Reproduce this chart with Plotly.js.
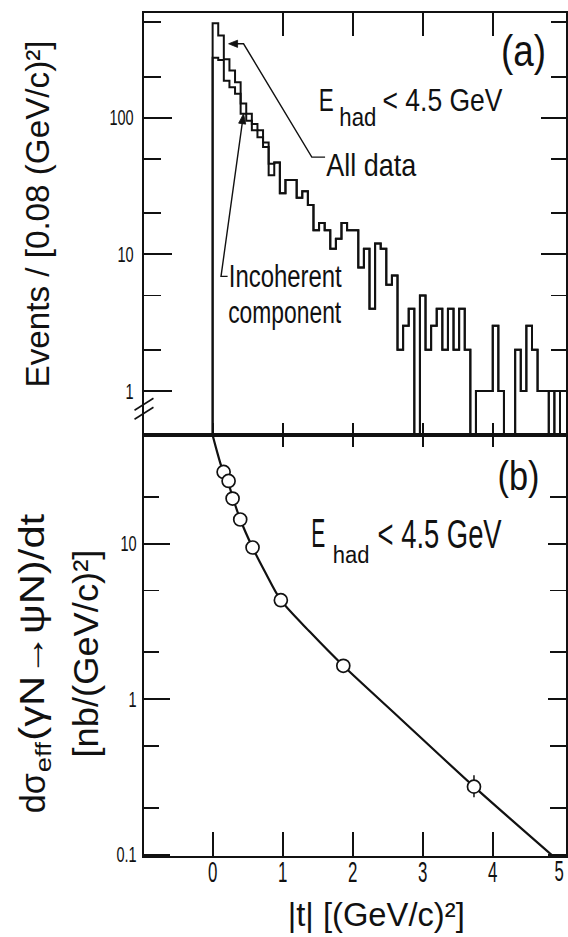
<!DOCTYPE html>
<html>
<head>
<meta charset="utf-8">
<script src="https://cdn.plot.ly/plotly-3.0.1.min.js"></script>
<style>
html, body { margin: 0; padding: 0; background: #fff; }
#chart { width: 568px; height: 937px; }
</style>
</head>
<body>
<div id="chart"></div>
<script>
// ---- (a) |t| distribution, events per 0.08 (GeV/c)^2 bin, first bin starts at t = 0
const binWidth = 0.08;
const allDataCounts = [492, 400, 268, 222, 182, 127, 107, 90, 81, 66, 46, 47, 28, 35, 35, 26,
  29, 23, 15, 17, 15, 11, 13, 17, 15, 15, 8, 11, 4, 12, 11, 6, 7, 2, 3, 4, 0, 5, 2, 3, 4, 2,
  4, 2, 4, 2, 0, 1, 1, 1, 3, 1, 0, 0, 2, 1, 3, 2, 1, 1, 0, 1];
const incoherentCounts = [275, 265, 187, 167, 150, 107, 95, 81, 72, 61, 38, 47, 28, 35, 35, 26,
  29, 23, 15, 17, 15, 11, 13, 17, 15, 15, 8, 11, 4, 12, 11, 6, 7, 2, 3, 4, 0, 5, 2, 3, 4, 2,
  4, 2, 4, 2, 0, 1, 1, 1, 3, 1, 0, 0, 2, 1, 3, 2, 1, 1, 0, 1];

// ---- (b) effective cross section d(sigma)/dt in nb/(GeV/c)^2
const tMeasured = [0.157, 0.228, 0.285, 0.394, 0.570, 0.974, 1.866, 3.732];
const dsdtMeasured = [28.9, 25.3, 19.5, 14.3, 9.45, 4.33, 1.64, 0.274];
const dsdtErrUp = [0, 0, 0, 0, 0, 0, 0, 0.05];
const dsdtErrDown = [0, 0, 0, 0, 0, 0, 0, 0.04];
// smooth curve drawn through the measurements
const curveT = [0, 0.071, 0.134, 0.224, 0.295, 0.395, 0.570, 0.751, 0.974, 1.392, 1.866, 2.674, 3.732, 4.86];
const curveV = [49.8, 37.9, 30.5, 24.5, 19.3, 14.3, 9.45, 6.55, 4.33, 2.70, 1.64, 0.755, 0.274, 0.098];

// tick labels (the last |t| label sits against the right edge and is lettered separately)
const xTickVals = [0, 1, 2, 3, 4];
const xTickText = ['0', '1', '2', '3', '4'];
const xEdgeLabel = '5';
const yTickValsA = [1, 10, 100];
const yTickTextA = ['1', '10', '100'];
const yMinorA = [2, 5, 20, 50, 200, 500];
const yTickValsB = [0.1, 1, 10];
const yTickTextB = ['0.1', '1', '10'];
const yMinorB = [0.2, 0.5, 2, 5, 20];

// ---- geometry of the plotting frame (pixels)
const W = 568, H = 937;
const PL = 143.5, PR = 566.5, PT = 12.5, PB = 856;
const SPLIT = 435;                       // border between panels (a) and (b)
const splitFrac = (PB - SPLIT) / (PB - PT);
const px = x => (x - PL) / (PR - PL);
const py = y => (PB - y) / (PB - PT);
const pt = (x, y) => `${px(x).toFixed(5)} ${py(y).toFixed(5)}`;

const SANS = '"Liberation Sans", Arial, Helvetica, sans-serif';
const INK = '#111';

const xRange = [-0.98, 5.046];
const yRangeA = [-0.324, 2.767];
const yRangeB = [-1.008, 1.697];

// empty bins cannot sit on a log axis: send them below the panel floor
const FLOOR = 0.2;
function stepTrace(counts, width) {
  const xs = [0, 0];
  const ys = [FLOOR, counts[0] > 0 ? counts[0] : FLOOR];
  for (let k = 1; k < counts.length; k++) {
    xs.push(k * binWidth);
    ys.push(counts[k] > 0 ? counts[k] : FLOOR);
  }
  xs.push(counts.length * binWidth);
  ys.push(FLOOR);
  return {
    type: 'scatter', mode: 'lines', x: xs, y: ys, xaxis: 'x2', yaxis: 'y2',
    line: { shape: 'hv', color: INK, width: width }, hoverinfo: 'skip', showlegend: false
  };
}

const blank = (xa, ya) => ({ type: 'scatter', x: [], y: [], xaxis: xa, yaxis: ya,
  hoverinfo: 'skip', showlegend: false });

const traces = [
  stepTrace(allDataCounts, 2),
  stepTrace(incoherentCounts, 2),
  {
    type: 'scatter', mode: 'lines', x: curveT, y: curveV, xaxis: 'x', yaxis: 'y',
    line: { shape: 'spline', smoothing: 0.8, color: INK, width: 2.2 },
    hoverinfo: 'skip', showlegend: false
  },
  {
    type: 'scatter', mode: 'markers', x: tMeasured, y: dsdtMeasured, xaxis: 'x', yaxis: 'y',
    marker: { symbol: 'circle', size: 13, color: '#fff', line: { color: INK, width: 1.7 } },
    error_y: { type: 'data', array: dsdtErrUp, arrayminus: dsdtErrDown, symmetric: false,
      color: INK, thickness: 1.5, width: 0 },
    hoverinfo: 'skip', showlegend: false
  },
  blank('x3', 'y'), blank('x4', 'y'), blank('x5', 'y2'),
  blank('x', 'y3'), blank('x2', 'y4')
];

// leader lines with solid arrow heads (pixel geometry of the lettering)
function arrowHead(tip, tail, len, half) {
  const dx = tip[0] - tail[0], dy = tip[1] - tail[1];
  const d = Math.hypot(dx, dy), ux = dx / d, uy = dy / d;
  const bx = tip[0] - len * ux, by = tip[1] - len * uy;
  return `M ${pt(tip[0], tip[1])} L ${pt(bx - half * uy, by + half * ux)} L ${pt(bx + half * uy, by - half * ux)} Z`;
}
const allTip = [228.3, 43.3], allBend = [243.3, 43.3];
const incTip = [243.3, 113.3], incTail = [220.7, 276];

const lineStyle = { showline: true, linecolor: INK, linewidth: 2, showgrid: false, zeroline: false };
const tickStyle = { tickcolor: INK, tickwidth: 1.8 };

// one piece of lettering: [text, x px, y px, font size, drawn width px, angle]
const lettering = [
  ['(a)', 524, 50, 45, 45, 0],
  ['E', 326.5, 100.5, 31, 15, 0],
  ['had', 358, 116.7, 25, 37, 0],
  ['< 4.5 GeV', 443, 100, 32, 120, 0],
  ['All data', 372, 165, 32, 90, 0],
  ['Incoherent', 285, 276, 31, 113, 0],
  ['component', 285, 312, 31, 113, 0],
  ['(b)', 519, 476, 40, 42, 0],
  ['E', 318, 532.5, 40, 14, 0],
  ['had', 351, 555, 23, 36.7, 0],
  ['< 4.5 GeV', 440, 534, 40, 124, 0],
  [xEdgeLabel, 559, 871.5, 29, 9.3, 0],
  ['|t| [(GeV/c)²]', 376.5, 915, 33, 177, 0],
  ['Events / [0.08 (GeV/c)²]', 36, 213.5, 34, 347, -90],
  ['dσ', 31, 793, 35, 40, -90],
  ['eff', 42.4, 757, 22, 30, -90],
  ['(γN→ψN)/dt', 31, 626.5, 35, 227, -90],
  ['[nb/(GeV/c)²]', 84, 654, 35, 208, -90]
];

const annotations = lettering.map(([text, x, y, size, , angle]) => ({
  text: text.replace(/</g, '&lt;'), xref: 'paper', yref: 'paper', x: px(x), y: py(y),
  textangle: angle, showarrow: false, xanchor: 'center', yanchor: 'middle', borderpad: 0,
  font: { family: SANS, size: size, color: INK }
}));

const layout = {
  width: W, height: H,
  margin: { l: PL, r: W - PR, t: PT, b: H - PB, pad: 0 },
  paper_bgcolor: '#fff', plot_bgcolor: '#fff',
  showlegend: false,
  // bottom panel (b)
  xaxis: Object.assign({ domain: [0, 1], anchor: 'y', range: xRange, tickmode: 'array',
    tickvals: xTickVals, ticktext: xTickText, ticks: '', ticklabelstandoff: -11,
    tickfont: { family: SANS, size: 29, color: INK } }, lineStyle),
  xaxis3: Object.assign({ overlaying: 'x', anchor: 'y', side: 'bottom', range: xRange,
    tickmode: 'array', tickvals: [0, 1, 2, 3, 4], ticks: 'inside', ticklen: 24,
    showticklabels: false }, tickStyle, lineStyle, { showline: false }),
  xaxis4: Object.assign({ overlaying: 'x', anchor: 'y', side: 'top', range: xRange,
    tickmode: 'array', tickvals: [1, 2, 3, 4], ticks: 'inside', ticklen: 12,
    showticklabels: false }, tickStyle, lineStyle),
  yaxis: Object.assign({ domain: [0, splitFrac], anchor: 'x', type: 'log', range: yRangeB,
    tickmode: 'array', tickvals: yTickValsB, ticktext: yTickTextB, ticks: 'inside', ticklen: 26,
    ticklabelstandoff: 1, tickfont: { family: SANS, size: 22, color: INK },
    minor: { tickmode: 'array', tickvals: yMinorB, ticks: 'inside', ticklen: 15, tickwidth: 1.8, tickcolor: INK, showgrid: false }
  }, tickStyle, lineStyle),
  yaxis3: Object.assign({ overlaying: 'y', anchor: 'x', side: 'right', type: 'log', range: yRangeB,
    tickmode: 'array', tickvals: yTickValsB, ticks: 'inside', ticklen: 18, showticklabels: false,
    minor: { tickmode: 'array', tickvals: yMinorB, ticks: 'inside', ticklen: 16, tickwidth: 1.8, tickcolor: INK, showgrid: false }
  }, tickStyle, lineStyle),
  // top panel (a)
  xaxis2: Object.assign({ anchor: 'y2', range: xRange, tickmode: 'array', tickvals: [0, 1, 2, 3, 4],
    ticks: 'inside', ticklen: 12, showticklabels: false }, tickStyle, lineStyle),
  xaxis5: Object.assign({ overlaying: 'x2', anchor: 'y2', side: 'top', range: xRange,
    tickmode: 'array', tickvals: [1, 2, 3, 4], ticks: 'inside', ticklen: 23,
    showticklabels: false }, tickStyle, lineStyle),
  yaxis2: Object.assign({ domain: [splitFrac, 1], anchor: 'x2', type: 'log', range: yRangeA,
    tickmode: 'array', tickvals: yTickValsA, ticktext: yTickTextA, ticks: 'inside', ticklen: 28,
    ticklabelstandoff: 4, tickfont: { family: SANS, size: 22, color: INK },
    minor: { tickmode: 'array', tickvals: yMinorA, ticks: 'inside', ticklen: 17, tickwidth: 1.8, tickcolor: INK, showgrid: false }
  }, tickStyle, lineStyle),
  yaxis4: Object.assign({ overlaying: 'y2', anchor: 'x2', side: 'right', type: 'log', range: yRangeA,
    tickmode: 'array', tickvals: yTickValsA, ticks: 'inside', ticklen: 25, showticklabels: false,
    minor: { tickmode: 'array', tickvals: yMinorA, ticks: 'inside', ticklen: 15, tickwidth: 1.8, tickcolor: INK, showgrid: false }
  }, tickStyle, lineStyle),

  shapes: [
    // leader from "All data"
    { type: 'path', xref: 'paper', yref: 'paper',
      path: `M ${pt(325, 156.7)} L ${pt(311.7, 156.7)} L ${pt(allBend[0], allBend[1])} L ${pt(allTip[0] + 6, allTip[1])}`,
      line: { color: INK, width: 1.4 } },
    { type: 'path', xref: 'paper', yref: 'paper', path: arrowHead(allTip, allBend, 9, 3.6),
      fillcolor: INK, line: { color: INK, width: 0.8 } },
    // leader from "Incoherent component"
    { type: 'path', xref: 'paper', yref: 'paper',
      path: `M ${pt(227.3, 276)} L ${pt(incTail[0], incTail[1])} L ${pt(242.5, 119)}`,
      line: { color: INK, width: 1.4 } },
    { type: 'path', xref: 'paper', yref: 'paper', path: arrowHead(incTip, incTail, 10, 3.6),
      fillcolor: INK, line: { color: INK, width: 0.8 } },
    // axis break on the left of panel (a)
    { type: 'line', xref: 'paper', yref: 'paper', x0: px(134), y0: py(410), x1: px(153), y1: py(398),
      line: { color: INK, width: 1.6 } },
    { type: 'line', xref: 'paper', yref: 'paper', x0: px(134), y0: py(419), x1: px(153), y1: py(407),
      line: { color: INK, width: 1.6 } }
  ],

  annotations: annotations
};

// narrow lettering of the tick numbers
const xTickSqueeze = 0.58;
const yTickSqueeze = 0.66;

function fitWidth(el, target) {
  el.setAttribute('textLength', target.toFixed(1));
  el.setAttribute('lengthAdjust', 'spacingAndGlyphs');
}

Plotly.newPlot('chart', traces, layout, { displayModeBar: false, staticPlot: true }).then(gd => {
  gd.querySelectorAll('g.annotation').forEach(g => {
    const spec = lettering[+g.getAttribute('data-index')];
    const t = g.querySelector('text.annotation-text');
    if (spec && t) fitWidth(t, spec[4]);
  });
  gd.querySelectorAll('g.xtick text').forEach(t => fitWidth(t, t.getComputedTextLength() * xTickSqueeze));
  gd.querySelectorAll('g.ytick text, g.y2tick text').forEach(t => fitWidth(t, t.getComputedTextLength() * yTickSqueeze));
});
</script>
</body>
</html>
